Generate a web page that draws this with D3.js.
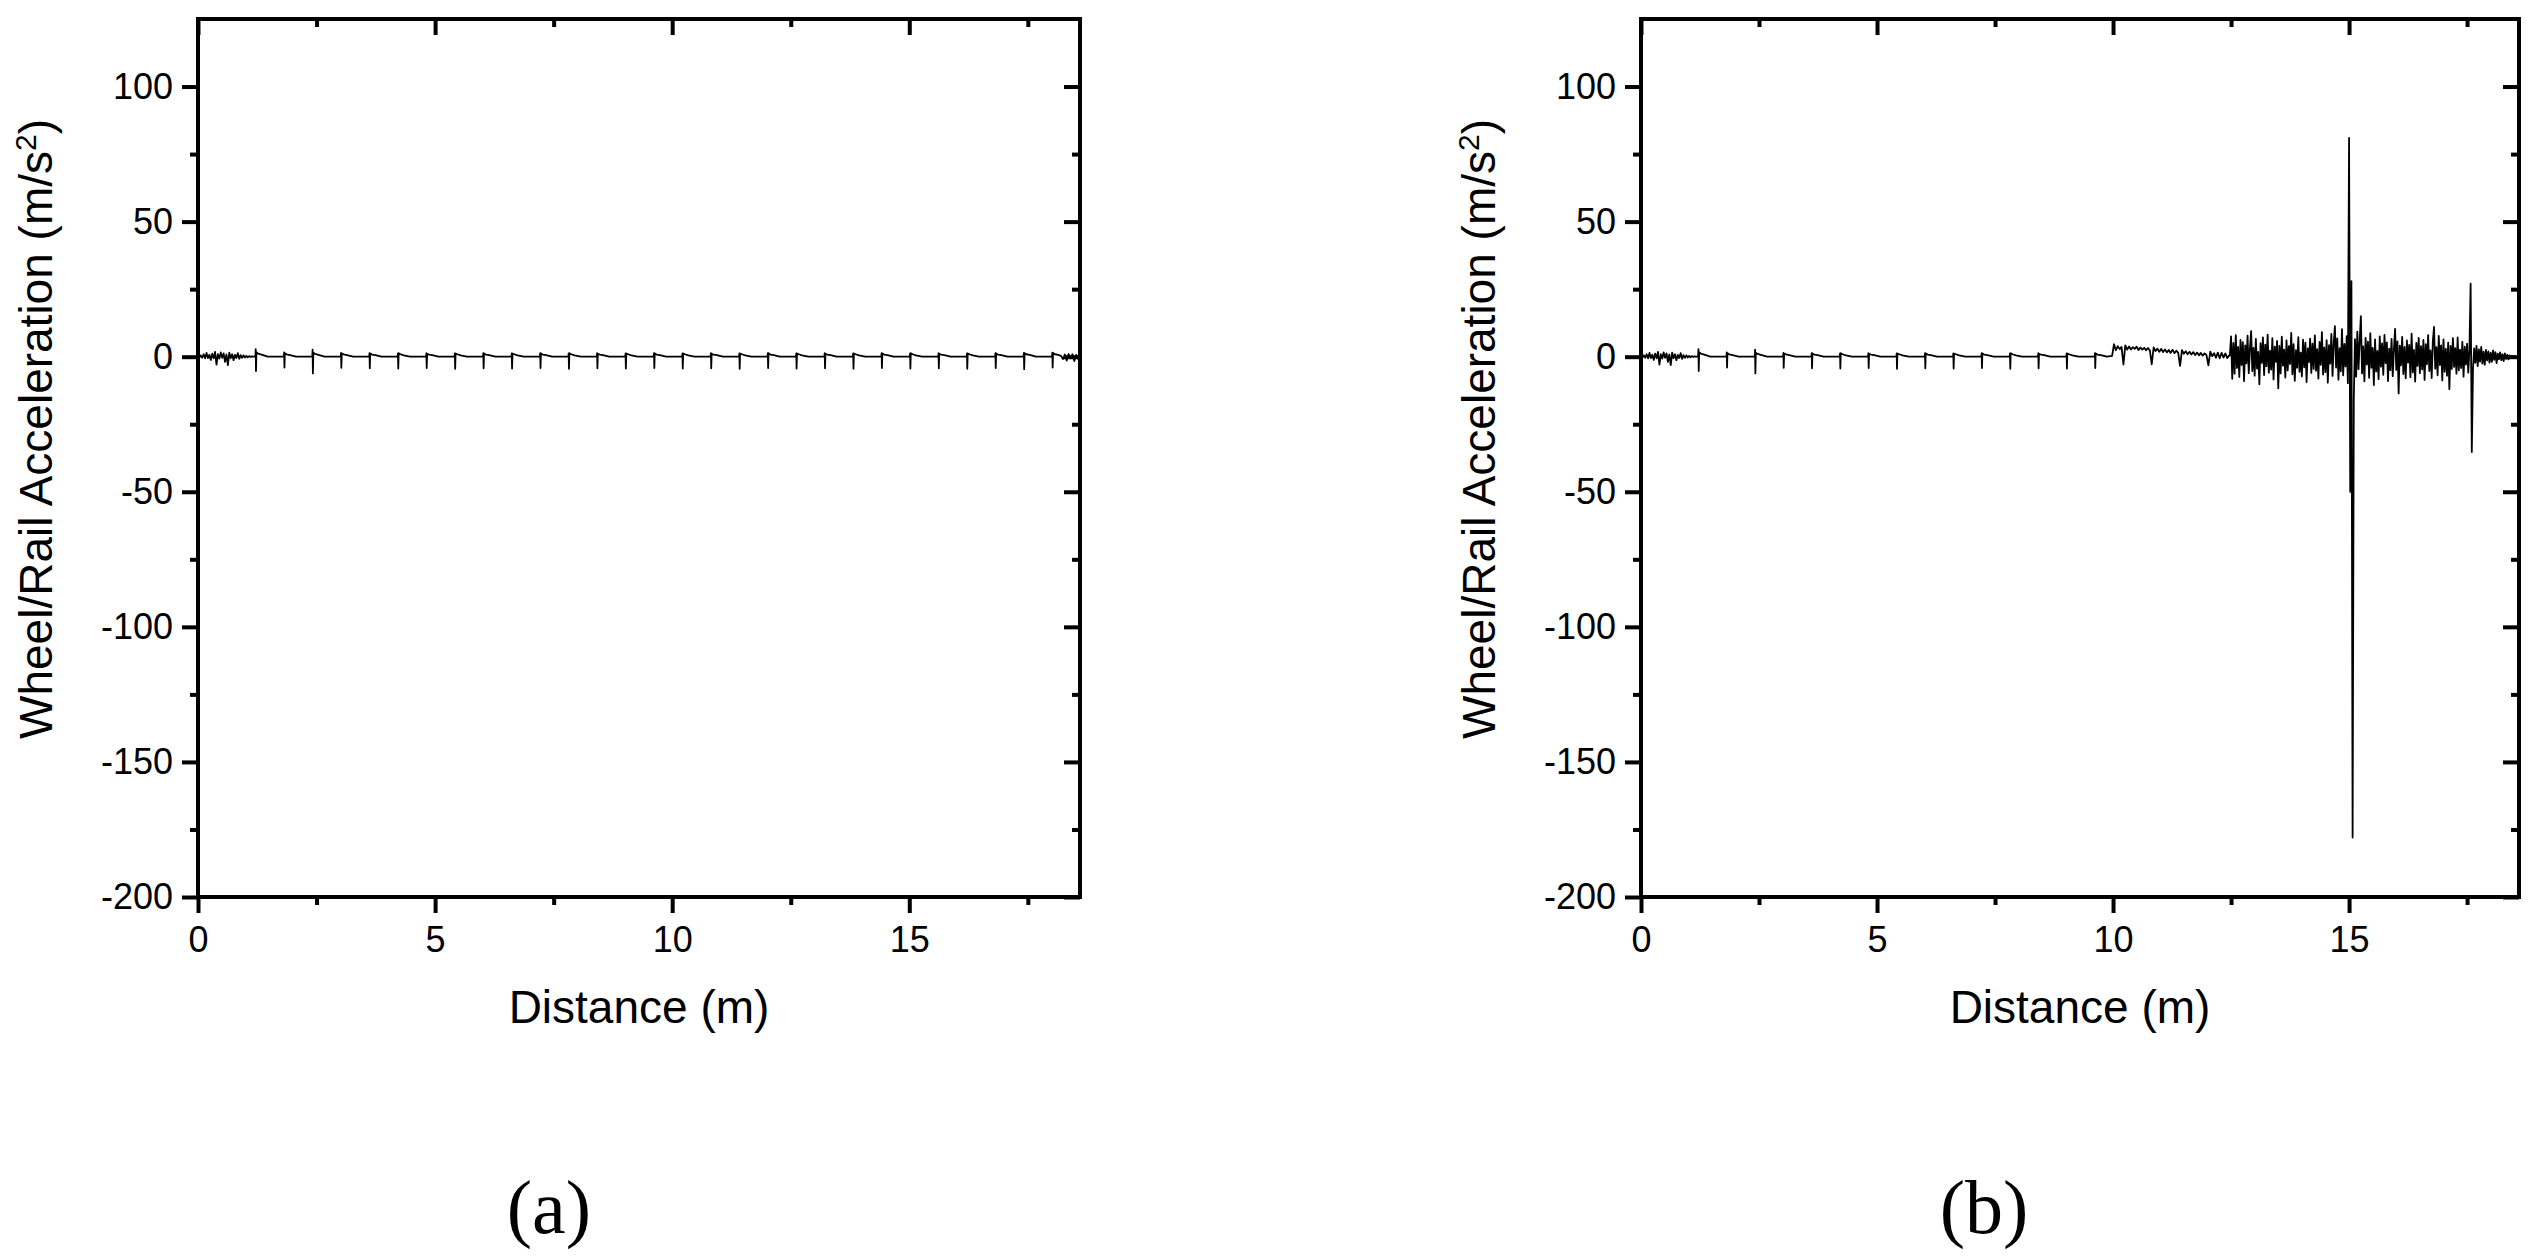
<!DOCTYPE html>
<html><head><meta charset="utf-8">
<script src="https://cdn.jsdelivr.net/npm/d3@7"></script>
<style>body{margin:0;background:#fff}</style>
</head><body><svg id="c" width="2535" height="1256"></svg>
<script>
// ---------- data ----------
const xDomain = [0, 18.6];
const yDomain = [-200, 125];
const xTickMajor = [0, 5, 10, 15];
const xTickMinor = [2.5, 7.5, 12.5, 17.5];
const yTickMajor = [-200, -150, -100, -50, 0, 50, 100];
const yTickMinor = [-175, -125, -75, -25, 25, 75];
const panelLabels = ["(a)", "(b)"];
const xTitle = "Distance (m)";
const yTitleMain = "Wheel/Rail Acceleration (m/s";
const yTitleSup = "2";
const yTitleEnd = ")";

// shared part of both signals (0 - 9.9 m)
const commonDist = [0,0.03,0.06,0.09,0.12,0.15,0.18,0.21,0.24,0.27,0.30,0.33,0.36,0.39,0.42,0.45,0.48,0.51,0.54,0.57,0.60,0.63,0.66,0.69,0.72,0.75,0.78,0.81,0.84,0.87,0.90,0.93,0.96,0.99,1.02,1.05,1.08,1.11,1.14,1.17,
1.21,1.217,1.223,1.232,1.27,1.34,1.47,
1.81,1.817,1.823,1.832,1.87,1.94,2.07,
2.41,2.417,2.423,2.432,2.47,2.54,2.67,
3.01,3.017,3.023,3.032,3.07,3.14,3.27,
3.61,3.617,3.623,3.632,3.67,3.74,3.87,
4.21,4.217,4.223,4.232,4.27,4.34,4.47,
4.81,4.817,4.823,4.832,4.87,4.94,5.07,
5.41,5.417,5.423,5.432,5.47,5.54,5.67,
6.01,6.017,6.023,6.032,6.07,6.14,6.27,
6.61,6.617,6.623,6.632,6.67,6.74,6.87,
7.21,7.217,7.223,7.232,7.27,7.34,7.47,
7.81,7.817,7.823,7.832,7.87,7.94,8.07,
8.41,8.417,8.423,8.432,8.47,8.54,8.67,
9.01,9.017,9.023,9.032,9.07,9.14,9.27,
9.61,9.617,9.623,9.632,9.67,9.74,9.87];
const commonAcc = [0.1,-0.3,0.5,-0.4,0.9,-0.6,1.4,-0.5,0.7,-1.2,1.1,-0.6,1.8,-2.9,0.9,-0.7,1.6,-0.4,1.2,-1.9,0.8,-3.1,1.5,-0.6,0.9,-1.3,0.7,-0.5,1.3,-0.8,0.6,-0.4,0.5,-0.3,0.3,-0.2,0.2,-0.1,0.1,0.0,
0.0,2.8,-5.3,1.7,1.1,0.8,0.0,
0.0,1.6,-4.0,1.3,0.9,0.6,0.0,
0.0,2.6,-6.2,1.5,1.0,0.7,0.0,
0.0,1.4,-4.1,1.2,0.9,0.6,0.0,
0.0,1.3,-4.3,1.2,0.8,0.6,0.0,
0.0,1.2,-4.4,1.3,0.9,0.5,0.0,
0.0,1.3,-4.2,1.1,0.8,0.6,0.0,
0.0,1.2,-4.5,1.2,0.9,0.5,0.0,
0.0,1.3,-4.3,1.2,0.8,0.6,0.0,
0.0,1.2,-4.4,1.1,0.9,0.5,0.0,
0.0,1.3,-4.2,1.2,0.8,0.6,0.0,
0.0,1.2,-4.5,1.3,0.9,0.5,0.0,
0.0,1.3,-4.3,1.1,0.8,0.6,0.0,
0.0,1.2,-4.4,1.2,0.9,0.5,0.0,
0.0,1.3,-4.2,1.2,0.8,0.6,0.0];

// (a) remainder 10.2 - 18.6 m
const tailDistA = [10.21,10.217,10.223,10.232,10.27,10.34,10.47,
10.81,10.817,10.823,10.832,10.87,10.94,11.07,
11.41,11.417,11.423,11.432,11.47,11.54,11.67,
12.01,12.017,12.023,12.032,12.07,12.14,12.27,
12.61,12.617,12.623,12.632,12.67,12.74,12.87,
13.21,13.217,13.223,13.232,13.27,13.34,13.47,
13.81,13.817,13.823,13.832,13.87,13.94,14.07,
14.41,14.417,14.423,14.432,14.47,14.54,14.67,
15.01,15.017,15.023,15.032,15.07,15.14,15.27,
15.61,15.617,15.623,15.632,15.67,15.74,15.87,
16.21,16.217,16.223,16.232,16.27,16.34,16.47,
16.81,16.817,16.823,16.832,16.87,16.94,17.07,
17.41,17.417,17.423,17.432,17.47,17.54,17.67,
18.01,18.017,18.023,18.032,18.07,18.14,
18.20,18.24,18.28,18.32,18.36,18.40,18.44,18.48,18.52,18.56,18.60];
const tailAccA = [0.0,1.2,-4.4,1.2,0.9,0.5,0.0,
0.0,1.3,-4.3,1.1,0.8,0.6,0.0,
0.0,1.2,-4.5,1.2,0.9,0.5,0.0,
0.0,1.3,-4.2,1.3,0.8,0.6,0.0,
0.0,1.2,-4.4,1.2,0.9,0.5,0.0,
0.0,1.3,-4.3,1.1,0.8,0.6,0.0,
0.0,1.2,-4.5,1.2,0.9,0.5,0.0,
0.0,1.3,-4.2,1.2,0.8,0.6,0.0,
0.0,1.2,-4.4,1.3,0.9,0.5,0.0,
0.0,1.3,-4.3,1.1,0.8,0.6,0.0,
0.0,1.2,-4.5,1.2,0.9,0.5,0.0,
0.0,1.3,-4.2,1.2,0.8,0.6,0.0,
0.0,1.4,-4.6,1.3,0.9,0.7,0.0,
0.0,1.5,-4.0,1.4,0.9,0.7,
0.3,-0.9,0.8,-1.4,1.0,-0.6,0.9,-1.6,0.7,-0.8,-0.3];

// (b) offset segment, sampled from 9.98 m every 0.04 m
const rampStartB = 9.98, rampStepB = 0.04;
const rampAccB = [0.3,4.6,2.4,3.9,2.8,3.6,-2.9,4.2,2.6,3.8,
2.7,3.5,2.9,3.7,2.5,3.4,2.6,3.3,2.4,3.2,
2.3,-2.8,3.4,2.1,3.0,1.8,2.9,1.7,2.7,1.6,
2.5,1.4,2.6,1.3,2.2,1.5,-3.4,2.4,1.1,2.0,
0.9,1.8,0.8,1.7,0.6,1.5,0.5,1.4,0.4,1.2,
0.6,-3.2,1.9,0.2,1.3,-0.4,1.5,-0.6,1.4,-0.3,
1.2,-0.5];

// (b) heavy-vibration segment, sampled from 12.45 m every 0.025 m
const noiseStartB = 12.45, noiseStepB = 0.025;
const noiseAccB = [0.3,
0.5,7.5,-8.2,5.1,-6.3,8.0,-4.2,3.6,-7.5,6.2,
-3.1,5.4,-9.0,4.2,-2.5,7.8,-6.1,2.9,9.5,-5.3,
3.3,-7.0,6.6,-4.4,1.8,-10.2,5.0,-2.3,7.1,-6.8,
4.5,-3.5,8.2,-5.9,2.2,-4.8,6.9,-8.4,3.7,-1.9,
5.8,-11.7,4.0,-6.2,7.4,-3.3,2.6,-7.7,6.0,-5.1,
3.9,-2.7,8.8,-6.5,4.6,-8.9,2.4,-4.1,7.2,-5.6,
1.5,-7.3,6.3,-3.9,5.2,-9.4,3.1,-2.0,6.7,-6.0,
4.8,-4.5,7.9,-5.2,2.8,-8.1,5.5,-3.0,9.1,-6.6,
3.4,-5.7,6.1,-9.6,4.3,-2.6,8.4,-7.1,5.0,11.3,
-4.0,6.8,-8.5,3.2,-5.4,10.2,-6.9,4.7,-3.6,7.6,
-9.8,81.0,-50.0,28.0,-178.0,-16.0,6.5,-7.4,9.3,-4.6,
5.9,15.0,-6.2,3.8,-9.1,7.0,-2.9,5.6,-7.8,8.7,
-4.1,3.3,-10.5,6.4,-5.5,2.1,-8.3,7.5,-3.7,4.9,
-6.7,8.1,-2.4,5.3,-9.0,3.0,-5.0,6.6,-7.2,2.7,
10.3,-4.9,5.7,-13.6,4.1,-3.2,7.3,-6.4,3.6,-8.0,
6.0,-2.2,4.4,-7.6,8.5,-5.8,2.5,-9.2,5.1,-3.4,
7.0,-6.1,3.9,-4.7,6.2,-8.6,4.6,-2.8,8.0,-5.3,
2.3,-7.9,5.8,11.0,-4.4,3.5,-6.9,7.7,-3.1,4.2,
-8.8,6.4,-5.6,2.9,-7.0,5.2,-12.0,4.0,-4.5,6.9,
-3.8,3.2,-6.3,7.1,-5.1,2.6,-4.2,5.5,-7.4,3.7,
-2.9,4.8,-5.9,2.4,27.0,-35.3,-4.6,3.1,-2.3,4.0,
-3.5,2.7,-1.8,3.6,-2.6,1.9,-3.0,2.5,-1.4,2.0,
-2.2,1.5,-1.9,2.3,-1.2,1.7,-2.4,1.1,-1.0,1.6,
-1.3,0.9,-1.6,1.2,-0.8,0.7,-1.0,0.5,-0.3,0.2,
0.0,0.1,0.0,-0.1,0.0,0.0];

// ---------- build series ----------
const pair = (xs, ys) => xs.map((d, i) => ({x: d, y: ys[i]}));
const seriesA = pair(commonDist, commonAcc).concat(pair(tailDistA, tailAccA));
const seriesB = pair(commonDist, commonAcc)
  .concat(rampAccB.map((v, i) => ({x: rampStartB + i * rampStepB, y: v})))
  .concat(noiseAccB.map((v, i) => ({x: noiseStartB + i * noiseStepB, y: v})));

// ---------- layout ----------
const TOP = 19, BOTTOM = 897;
const panels = [
  {left: 198, right: 1080, data: seriesA, label: panelLabels[0], labelX: 549, yTitleX: 52},
  {left: 1641, right: 2519, data: seriesB, label: panelLabels[1], labelX: 1984, yTitleX: 1495}
];
const FONT = "'Liberation Sans', Arial, Helvetica, sans-serif";
const SERIF = "'Liberation Serif', 'Times New Roman', Times, serif";

const svg = d3.select('#c');
svg.append('rect').attr('width', 2535).attr('height', 1256).attr('fill', '#fff');

function styleAxis(sel) {
  sel.select('.domain').remove();
  sel.selectAll('line').attr('stroke', '#000').attr('stroke-width', 4);
  sel.selectAll('text').attr('font-size', 36).attr('font-family', FONT).attr('fill', '#000');
}

panels.forEach(p => {
  const g = svg.append('g');
  const x = d3.scaleLinear().domain(xDomain).range([p.left, p.right]);
  const y = d3.scaleLinear().domain(yDomain).range([BOTTOM, TOP]);

  // data line
  g.append('path').datum(p.data)
    .attr('d', d3.line().x(d => x(d.x)).y(d => y(d.y)))
    .attr('fill', 'none').attr('stroke', '#000')
    .attr('stroke-width', 1.8).attr('stroke-linejoin', 'round');

  // left axis
  g.append('g').attr('transform', `translate(${p.left},0)`)
    .call(d3.axisLeft(y).tickValues(yTickMajor).tickSize(16).tickPadding(9).tickFormat(d => String(d)))
    .call(styleAxis);
  g.append('g').attr('transform', `translate(${p.left},0)`)
    .call(d3.axisLeft(y).tickValues(yTickMinor).tickSize(8).tickFormat(''))
    .call(styleAxis);
  // right (inward)
  g.append('g').attr('transform', `translate(${p.right},0)`)
    .call(d3.axisLeft(y).tickValues(yTickMajor).tickSize(16).tickFormat(''))
    .call(styleAxis);
  g.append('g').attr('transform', `translate(${p.right},0)`)
    .call(d3.axisLeft(y).tickValues(yTickMinor).tickSize(8).tickFormat(''))
    .call(styleAxis);
  // bottom axis
  g.append('g').attr('transform', `translate(0,${BOTTOM})`)
    .call(d3.axisBottom(x).tickValues(xTickMajor).tickSize(16).tickPadding(13).tickFormat(d => String(d)))
    .call(styleAxis);
  g.append('g').attr('transform', `translate(0,${BOTTOM})`)
    .call(d3.axisBottom(x).tickValues(xTickMinor).tickSize(8).tickFormat(''))
    .call(styleAxis);
  // top (inward)
  g.append('g').attr('transform', `translate(0,${TOP})`)
    .call(d3.axisBottom(x).tickValues(xTickMajor).tickSize(16).tickFormat(''))
    .call(styleAxis);
  g.append('g').attr('transform', `translate(0,${TOP})`)
    .call(d3.axisBottom(x).tickValues(xTickMinor).tickSize(8).tickFormat(''))
    .call(styleAxis);

  // frame
  g.append('rect').attr('x', p.left).attr('y', TOP)
    .attr('width', p.right - p.left).attr('height', BOTTOM - TOP)
    .attr('fill', 'none').attr('stroke', '#000').attr('stroke-width', 4);

  // x title
  g.append('text').attr('x', (p.left + p.right) / 2).attr('y', 1023)
    .attr('text-anchor', 'middle').attr('font-size', 46).attr('font-family', FONT)
    .attr('fill', '#000').text(xTitle);

  // y title
  const yt = g.append('text').attr('transform', `translate(${p.yTitleX},429) rotate(-90)`)
    .attr('text-anchor', 'middle').attr('font-size', 46).attr('font-family', FONT).attr('fill', '#000');
  yt.append('tspan').text(yTitleMain);
  yt.append('tspan').attr('baseline-shift', 'super').attr('font-size', 30).text(yTitleSup);
  yt.append('tspan').text(yTitleEnd);

  // panel label
  g.append('text').attr('x', p.labelX).attr('y', 1233)
    .attr('text-anchor', 'middle').attr('font-size', 76).attr('font-family', SERIF)
    .attr('fill', '#000').text(p.label);
});
</script>
</body></html>
